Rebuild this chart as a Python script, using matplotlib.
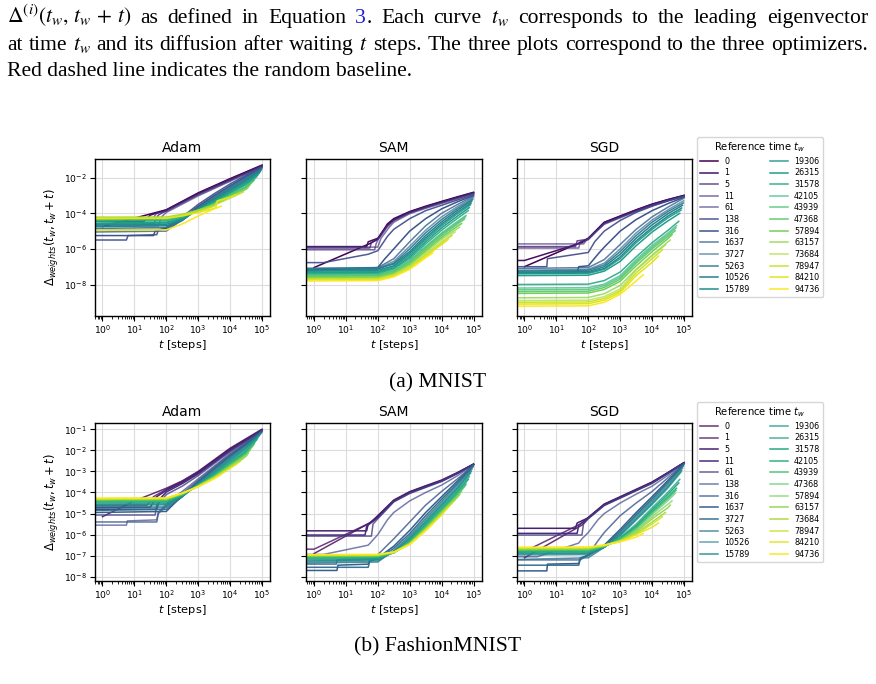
import numpy as np
import matplotlib
matplotlib.use("Agg")
import matplotlib.pyplot as plt
from matplotlib.ticker import NullLocator, LogLocator

# ---------------- data ----------------
ref_times = [0, 1, 5, 11, 61, 138, 316, 1637, 3727, 5263, 10526, 15789,
             19306, 26315, 31578, 42105, 43939, 47368, 57894, 63157,
             73684, 78947, 84210, 94736]
optimizers = ["Adam", "SAM", "SGD"]
captions = ["(a) MNIST", "(b) FashionMNIST"]

mnist_alpha = [1.0, 1.0, 0.8, 0.7, 0.7, 0.9, 1.0, 0.8, 0.7, 0.9, 1.0, 1.0,
               0.9, 1.0, 0.9, 0.7, 0.8, 0.9, 1.0, 0.8, 0.7, 0.9, 1.0, 1.0]
fashion_alpha = [0.8, 0.8, 1.0, 1.0, 0.8, 0.7, 0.8, 1.0, 0.95, 0.8, 0.7, 0.9,
                 0.8, 0.8, 1.0, 1.0, 0.9, 0.7, 0.7, 0.9, 0.95, 0.8, 0.9, 1.0]

# each curve: (log10 t, log10 Delta) knots
mnist_adam = [
    [(0, -4.75), (2, -3.8), (3, -2.85), (4, -2.05), (5, -1.29)],
    [(-0.25, -4.45), (1.3, -4.45), (1.5, -4.1), (2, -3.82), (3, -2.88), (4, -2.08), (5, -1.31)],
    [(-0.25, -4.6), (1.6, -4.6), (1.75, -4.1), (2, -3.85), (3, -2.92), (4, -2.12), (5, -1.33)],
    [(-0.25, -4.35), (1.55, -4.35), (1.7, -4.0), (2, -3.88), (3, -2.96), (4, -2.16), (5, -1.35)],
    [(-0.25, -4.7), (1.75, -4.7), (1.85, -4.2), (2, -3.95), (3, -3.02), (4, -2.2), (5, -1.37)],
    [(-0.25, -5.5), (0.75, -5.5), (0.8, -5.25), (1.7, -5.2), (1.75, -4.95), (2, -4.8), (2.5, -4.2), (3, -3.5), (3.5, -2.9), (4, -2.35), (4.5, -1.85), (5, -1.4)],
    [(-0.25, -5.25), (1.6, -5.25), (1.65, -5.0), (2, -4.85), (2.5, -4.3), (3, -3.6), (3.5, -3.0), (4, -2.45), (4.5, -1.92), (5, -1.43)],
    [(-0.25, -5.05), (2, -5.0), (2.5, -4.35), (3, -3.65), (3.5, -3.05), (4, -2.5), (4.5, -1.98), (4.993, -1.47)],
    [(-0.25, -4.95), (2, -4.9), (2.5, -4.4), (3, -3.7), (3.5, -3.1), (4, -2.55), (4.5, -2.02), (4.984, -1.52)],
    [(-0.25, -4.85), (2, -4.8), (2.5, -4.4), (3, -3.72), (3.5, -3.15), (4, -2.6), (4.5, -2.07), (4.977, -1.56)],
    [(-0.25, -4.75), (2, -4.7), (2.5, -4.38), (3, -3.75), (3.5, -3.2), (4, -2.66), (4.5, -2.14), (4.952, -1.63)],
    [(-0.25, -4.65), (2, -4.62), (2.5, -4.35), (3, -3.78), (3.5, -3.25), (4, -2.72), (4.5, -2.2), (4.925, -1.7)],
    [(-0.25, -4.6), (2, -4.55), (2.5, -4.3), (3, -3.8), (3.5, -3.3), (4, -2.77), (4.5, -2.26), (4.907, -1.76)],
    [(-0.25, -4.55), (2, -4.5), (2.5, -4.28), (3, -3.82), (3.5, -3.35), (4, -2.83), (4.5, -2.33), (4.867, -1.85)],
    [(-0.25, -4.45), (2, -4.42), (2.5, -4.22), (3, -3.82), (3.5, -3.38), (4, -2.88), (4.5, -2.4), (4.835, -1.95)],
    [(-0.25, -4.4), (2, -4.37), (2.5, -4.2), (3, -3.84), (3.5, -3.42), (4, -2.95), (4.5, -2.5), (4.763, -2.1)],
    [(-0.25, -4.35), (2, -4.33), (2.5, -4.17), (3, -3.85), (3.5, -3.45), (4, -2.98), (4.5, -2.52), (4.749, -2.13)],
    [(-0.25, -4.3), (2, -4.28), (2.5, -4.12), (3, -3.85), (3.5, -3.48), (4, -3.02), (4.5, -2.57), (4.721, -2.2)],
    [(-0.25, -4.25), (2, -4.24), (2.5, -4.08), (3, -3.83), (3.5, -3.5), (4, -3.08), (4.5, -2.63), (4.624, -2.4)],
    [(-0.25, -4.3), (2, -4.28), (2.5, -4.1), (3, -3.85), (3.5, -3.55), (3.6, -3.3), (4, -3.05), (4.5, -2.65), (4.566, -2.55)],
    [(-0.25, -4.2), (2, -4.2), (2.5, -4.05), (3, -3.82), (3.5, -3.55), (4, -3.15), (4.42, -2.8)],
    [(-0.25, -4.25), (2, -4.25), (2.5, -4.1), (3, -3.9), (3.5, -3.6), (3.6, -3.35), (4, -3.1), (4.323, -2.85)],
    [(-0.25, -4.3), (2, -4.28), (2.5, -4.15), (3, -3.95), (3.55, -3.7), (3.6, -3.3), (4, -3.1), (4.198, -2.95)],
    [(-0.25, -4.95), (2, -4.93), (2.5, -4.6), (3, -4.15), (3.5, -3.75), (3.721, -3.6)],
]

mnist_sam = [
    [(0, -7.05), (1.75, -5.7), (2, -5.45), (2.3, -4.6), (2.5, -4.3), (3, -3.9), (3.5, -3.6), (4, -3.33), (4.5, -3.07), (5, -2.82)],
    [(-0.25, -5.87), (1.65, -5.87), (1.7, -5.6), (2, -5.4), (2.3, -4.65), (2.5, -4.35), (3, -3.93), (3.5, -3.63), (4, -3.36), (4.5, -3.1), (5, -2.84)],
    [(-0.25, -5.95), (1.75, -5.95), (1.8, -5.65), (2, -5.45), (2.3, -4.7), (2.5, -4.38), (3, -3.95), (3.5, -3.65), (4, -3.38), (4.5, -3.12), (5, -2.86)],
    [(-0.25, -6.05), (1.9, -6.05), (1.95, -5.7), (2, -5.5), (2.3, -4.75), (2.5, -4.42), (3, -3.98), (3.5, -3.68), (4, -3.4), (4.5, -3.14), (5, -2.88)],
    [(-0.25, -5.9), (2.0, -5.9), (2.1, -5.4), (2.35, -4.8), (2.5, -4.5), (3, -4.02), (3.5, -3.72), (4, -3.45), (4.5, -3.18), (5, -2.9)],
    [(-0.25, -6.77), (0.3, -6.77), (1.7, -6.3), (2, -6.1), (2.3, -5.3), (2.5, -4.9), (3, -4.3), (3.5, -3.85), (4, -3.55), (4.5, -3.25), (5, -2.95)],
    [(-0.25, -7.2), (2, -7.05), (2.2, -6.6), (2.5, -6.0), (3, -5.0), (3.5, -4.3), (4, -3.75), (4.5, -3.35), (5, -3.0)],
    [(-0.25, -7.1), (2, -7.05), (2.5, -6.55), (3, -5.6), (3.5, -4.7), (4, -4.0), (4.5, -3.5), (4.993, -3.05)],
    [(-0.25, -7.15), (2, -7.1), (2.5, -6.7), (3, -5.85), (3.5, -4.95), (4, -4.2), (4.5, -3.62), (4.984, -3.12)],
    [(-0.25, -7.2), (2, -7.15), (2.5, -6.8), (3, -6.0), (3.5, -5.1), (4, -4.35), (4.5, -3.72), (4.977, -3.2)],
    [(-0.25, -7.1), (2, -7.08), (2.5, -6.85), (3, -6.15), (3.5, -5.25), (4, -4.48), (4.5, -3.82), (4.952, -3.3)],
    [(-0.25, -7.25), (2, -7.2), (2.5, -6.95), (3, -6.25), (3.5, -5.38), (4, -4.6), (4.5, -3.93), (4.925, -3.42)],
    [(-0.25, -7.3), (2, -7.28), (2.5, -7.0), (3, -6.35), (3.5, -5.48), (4, -4.7), (4.5, -4.02), (4.907, -3.52)],
    [(-0.25, -7.35), (2, -7.32), (2.5, -7.08), (3, -6.45), (3.5, -5.6), (4, -4.82), (4.5, -4.15), (4.867, -3.68)],
    [(-0.25, -7.4), (2, -7.38), (2.5, -7.12), (3, -6.55), (3.5, -5.72), (4, -4.95), (4.5, -4.28), (4.835, -3.85)],
    [(-0.25, -7.45), (2, -7.43), (2.5, -7.2), (3, -6.65), (3.5, -5.85), (4, -5.1), (4.5, -4.45), (4.763, -4.12)],
    [(-0.25, -7.5), (2, -7.48), (2.5, -7.25), (3, -6.7), (3.5, -5.92), (4, -5.17), (4.5, -4.52), (4.749, -4.2)],
    [(-0.25, -7.55), (2, -7.52), (2.5, -7.3), (3, -6.78), (3.5, -6.0), (4, -5.25), (4.5, -4.6), (4.721, -4.32)],
    [(-0.25, -7.6), (2, -7.58), (2.5, -7.35), (3, -6.85), (3.5, -6.1), (4, -5.35), (4.5, -4.72), (4.624, -4.58)],
    [(-0.25, -7.63), (2, -7.6), (2.5, -7.4), (3, -6.92), (3.5, -6.18), (4, -5.45), (4.5, -4.85), (4.566, -4.78)],
    [(-0.25, -7.68), (2, -7.66), (2.5, -7.45), (3, -7.0), (3.5, -6.28), (4, -5.58), (4.42, -5.05)],
    [(-0.25, -7.72), (2, -7.7), (2.5, -7.5), (3, -7.05), (3.5, -6.35), (4, -5.67), (4.323, -5.25)],
    [(-0.25, -7.75), (2, -7.73), (2.5, -7.52), (3, -7.1), (3.5, -6.42), (4, -5.75), (4.198, -5.48)],
    [(-0.25, -7.8), (2, -7.78), (2.5, -7.57), (3, -7.15), (3.5, -6.5), (3.721, -6.22)],
]

mnist_sgd = [
    [(0, -7.0), (1.8, -5.6), (2, -5.4), (2.5, -4.5), (3, -4.15), (3.5, -3.8), (4, -3.48), (4.5, -3.22), (5, -2.99)],
    [(-0.25, -6.65), (0, -6.65), (1.8, -5.65), (2, -5.42), (2.5, -4.52), (3, -4.17), (3.5, -3.82), (4, -3.5), (4.5, -3.24), (5, -3.0)],
    [(-0.25, -5.87), (1.6, -5.87), (1.65, -5.55), (2, -5.45), (2.5, -4.55), (3, -4.2), (3.5, -3.85), (4, -3.52), (4.5, -3.26), (5, -3.02)],
    [(-0.25, -5.95), (1.7, -5.95), (1.75, -5.6), (2, -5.48), (2.5, -4.58), (3, -4.22), (3.5, -3.87), (4, -3.55), (4.5, -3.28), (5, -3.03)],
    [(-0.25, -5.72), (1.85, -5.72), (2, -5.4), (2.5, -4.62), (3, -4.25), (3.5, -3.9), (4, -3.58), (4.5, -3.3), (5, -3.05)],
    [(-0.25, -7.0), (0.7, -7.0), (0.72, -6.55), (2, -6.2), (2.2, -5.6), (2.5, -5.0), (3, -4.4), (3.5, -3.95), (4, -3.6), (4.5, -3.3), (5, -3.05)],
    [(-0.25, -7.35), (1.65, -7.35), (1.7, -7.0), (2, -6.95), (2.3, -6.3), (2.5, -5.9), (3, -5.0), (3.5, -4.35), (4, -3.85), (4.5, -3.45), (5, -3.1)],
    [(-0.25, -7.1), (2, -7.05), (2.5, -6.6), (3, -5.75), (3.5, -4.9), (4, -4.2), (4.5, -3.65), (4.993, -3.15)],
    [(-0.25, -7.2), (2, -7.15), (2.5, -6.8), (3, -6.0), (3.5, -5.1), (4, -4.38), (4.5, -3.8), (4.984, -3.3)],
    [(-0.25, -7.25), (2, -7.2), (2.5, -6.9), (3, -6.15), (3.5, -5.25), (4, -4.5), (4.5, -3.9), (4.977, -3.42)],
    [(-0.25, -7.3), (2, -7.28), (2.5, -7.0), (3, -6.3), (3.5, -5.4), (4, -4.65), (4.5, -4.02), (4.952, -3.55)],
    [(-0.25, -7.35), (2, -7.33), (2.5, -7.1), (3, -6.45), (3.5, -5.55), (4, -4.8), (4.5, -4.15), (4.925, -3.7)],
    [(-0.25, -7.4), (2, -7.38), (2.5, -7.15), (3, -6.55), (3.5, -5.65), (4, -4.9), (4.5, -4.25), (4.907, -3.82)],
    [(-0.25, -7.5), (2, -7.48), (2.5, -7.25), (3, -6.7), (3.5, -5.82), (4, -5.05), (4.5, -4.42), (4.867, -4.0)],
    [(-0.25, -8.0), (2, -7.98), (2.5, -7.78), (3, -7.3), (3.5, -6.45), (4, -5.65), (4.5, -4.95), (4.835, -4.45)],
    [(-0.25, -8.2), (2, -8.18), (2.5, -7.98), (3, -7.5), (3.5, -6.6), (4, -5.8), (4.5, -5.1), (4.763, -4.7)],
    [(-0.25, -8.3), (2, -8.28), (2.5, -8.07), (3, -7.6), (3.5, -6.7), (4, -5.9), (4.5, -5.2), (4.749, -4.82)],
    [(-0.25, -8.4), (2, -8.38), (2.5, -8.17), (3, -7.7), (3.5, -6.8), (4, -6.0), (4.5, -5.3), (4.721, -4.98)],
    [(-0.25, -8.5), (2, -8.48), (2.5, -8.28), (3, -7.82), (3.5, -6.95), (4, -6.15), (4.5, -5.42), (4.624, -5.2)],
    [(-0.25, -8.75), (2, -8.73), (2.5, -8.52), (3, -8.05), (3.5, -7.15), (4, -6.35), (4.5, -5.6), (4.566, -5.5)],
    [(-0.25, -8.9), (2, -8.88), (2.5, -8.68), (3, -8.25), (3.5, -7.2), (4, -6.4), (4.42, -5.78)],
    [(-0.25, -9.0), (2, -8.98), (2.5, -8.78), (3, -8.35), (3.5, -7.35), (4, -6.55), (4.323, -6.05)],
    [(-0.25, -9.1), (2, -9.08), (2.5, -8.88), (3, -8.45), (3.5, -7.5), (4, -6.75), (4.198, -6.4)],
    [(-0.25, -9.22), (2, -9.2), (2.5, -9.0), (3, -8.55), (3.5, -7.8), (3.721, -7.46)],
]

fashion_adam = [
    [(0, -5.15), (1, -4.4), (2, -3.8), (2.5, -3.45), (3, -3.0), (3.5, -2.45), (4, -1.9), (4.5, -1.45), (5, -1.0)],
    [(-0.25, -4.6), (1.4, -4.6), (1.6, -4.2), (2, -3.85), (2.5, -3.48), (3, -3.03), (3.5, -2.48), (4, -1.93), (4.5, -1.47), (5, -1.02)],
    [(-0.25, -4.7), (1.5, -4.7), (1.7, -4.2), (2, -3.9), (2.5, -3.52), (3, -3.07), (3.5, -2.52), (4, -1.97), (4.5, -1.5), (5, -1.03)],
    [(-0.25, -4.8), (1.7, -4.8), (1.8, -4.3), (2, -3.98), (2.5, -3.58), (3, -3.12), (3.5, -2.57), (4, -2.02), (4.5, -1.54), (5, -1.05)],
    [(-0.25, -5.07), (1.65, -5.07), (1.7, -4.6), (2, -4.1), (2.5, -3.7), (3, -3.2), (3.5, -2.63), (4, -2.07), (4.5, -1.58), (5, -1.06)],
    [(-0.25, -5.55), (0.75, -5.55), (0.78, -5.35), (1.7, -5.3), (1.75, -4.95), (2, -4.55), (2.5, -3.95), (3, -3.35), (3.5, -2.75), (4, -2.15), (4.5, -1.63), (5, -1.08)],
    [(-0.25, -5.4), (1.7, -5.4), (1.75, -5.0), (2, -4.65), (2.5, -4.05), (3, -3.42), (3.5, -2.8), (4, -2.2), (4.5, -1.67), (5, -1.1)],
    [(-0.25, -4.95), (2, -4.9), (2.5, -4.15), (3, -3.48), (3.5, -2.86), (4, -2.25), (4.5, -1.7), (4.993, -1.12)],
    [(-0.25, -4.85), (2, -4.8), (2.5, -4.2), (3, -3.52), (3.5, -2.9), (4, -2.3), (4.5, -1.74), (4.984, -1.15)],
    [(-0.25, -4.75), (2, -4.72), (2.5, -4.2), (3, -3.55), (3.5, -2.95), (4, -2.35), (4.5, -1.78), (4.977, -1.18)],
    [(-0.25, -4.68), (2, -4.65), (2.5, -4.2), (3, -3.58), (3.5, -3.0), (4, -2.4), (4.5, -1.83), (4.952, -1.22)],
    [(-0.25, -4.6), (2, -4.57), (2.5, -4.18), (3, -3.6), (3.5, -3.04), (4, -2.45), (4.5, -1.88), (4.925, -1.27)],
    [(-0.25, -4.55), (2, -4.52), (2.5, -4.17), (3, -3.62), (3.5, -3.08), (4, -2.5), (4.5, -1.93), (4.907, -1.32)],
    [(-0.25, -4.5), (2, -4.48), (2.5, -4.15), (3, -3.64), (3.5, -3.12), (4, -2.55), (4.5, -2.0), (4.867, -1.42)],
    [(-0.25, -4.45), (2, -4.43), (2.5, -4.12), (3, -3.65), (3.5, -3.15), (4, -2.6), (4.5, -2.06), (4.835, -1.5)],
    [(-0.25, -4.42), (2, -4.4), (2.5, -4.1), (3, -3.66), (3.5, -3.2), (4, -2.65), (4.5, -2.12), (4.763, -1.65)],
    [(-0.25, -4.4), (2, -4.38), (2.5, -4.1), (3, -3.67), (3.5, -3.22), (4, -2.67), (4.5, -2.15), (4.749, -1.7)],
    [(-0.25, -4.37), (2, -4.35), (2.5, -4.08), (3, -3.68), (3.5, -3.24), (4, -2.7), (4.5, -2.18), (4.721, -1.78)],
    [(-0.25, -4.35), (2, -4.33), (2.5, -4.07), (3, -3.69), (3.5, -3.26), (4, -2.74), (4.5, -2.24), (4.624, -2.0)],
    [(-0.25, -4.33), (2, -4.31), (2.5, -4.06), (3, -3.7), (3.5, -3.28), (4, -2.77), (4.5, -2.28), (4.566, -2.15)],
    [(-0.25, -4.32), (2, -4.3), (2.5, -4.05), (3, -3.71), (3.5, -3.3), (4, -2.8), (4.42, -2.38)],
    [(-0.25, -4.3), (2, -4.29), (2.5, -4.05), (3, -3.72), (3.5, -3.32), (4, -2.83), (4.323, -2.52)],
    [(-0.25, -4.29), (2, -4.28), (2.5, -4.04), (3, -3.72), (3.5, -3.33), (4, -2.85), (4.198, -2.66)],
    [(-0.25, -4.27), (2, -4.26), (2.5, -4.03), (3, -3.73), (3.5, -3.35), (3.721, -3.15)],
]

fashion_sam = [
    [(0, -6.9), (1.8, -5.4), (2, -5.1), (2.5, -4.36), (3, -3.96), (3.5, -3.68), (4, -3.41), (4.5, -3.05), (5, -2.65)],
    [(-0.25, -6.69), (0, -6.69), (1.75, -5.45), (2, -5.12), (2.5, -4.38), (3, -3.98), (3.5, -3.7), (4, -3.43), (4.5, -3.07), (5, -2.66)],
    [(-0.25, -5.82), (1.65, -5.82), (1.7, -5.5), (2, -5.15), (2.5, -4.4), (3, -4.0), (3.5, -3.72), (4, -3.45), (4.5, -3.08), (5, -2.66)],
    [(-0.25, -6.02), (1.6, -6.02), (1.65, -5.6), (2, -5.2), (2.5, -4.42), (3, -4.02), (3.5, -3.74), (4, -3.46), (4.5, -3.09), (5, -2.67)],
    [(-0.25, -6.07), (1.8, -6.07), (1.85, -5.5), (2, -5.25), (2.5, -4.45), (3, -4.05), (3.5, -3.76), (4, -3.48), (4.5, -3.1), (5, -2.67)],
    [(-0.25, -6.94), (0.3, -6.94), (1.7, -6.5), (2, -6.0), (2.3, -5.3), (2.5, -4.95), (3, -4.4), (3.5, -4.0), (4, -3.65), (4.5, -3.2), (5, -2.68)],
    [(-0.25, -7.4), (0.7, -7.4), (0.72, -7.2), (1.7, -7.15), (2, -6.95), (2.5, -6.2), (3, -5.4), (3.5, -4.6), (4, -3.95), (4.5, -3.35), (5, -2.7)],
    [(-0.25, -7.7), (0.72, -7.7), (0.75, -7.45), (1.7, -7.4), (1.75, -7.2), (2, -7.1), (2.5, -6.55), (3, -5.8), (3.5, -4.95), (4, -4.2), (4.5, -3.45), (4.993, -2.72)],
    [(-0.25, -7.55), (1.7, -7.55), (1.75, -7.25), (2, -7.15), (2.5, -6.65), (3, -5.95), (3.5, -5.1), (4, -4.32), (4.5, -3.55), (4.984, -2.76)],
    [(-0.25, -7.35), (2, -7.3), (2.5, -6.75), (3, -6.05), (3.5, -5.22), (4, -4.42), (4.5, -3.62), (4.977, -2.8)],
    [(-0.25, -7.3), (2, -7.25), (2.5, -6.8), (3, -6.12), (3.5, -5.3), (4, -4.5), (4.5, -3.7), (4.952, -2.9)],
    [(-0.25, -7.25), (2, -7.2), (2.5, -6.82), (3, -6.18), (3.5, -5.38), (4, -4.58), (4.5, -3.78), (4.925, -3.0)],
    [(-0.25, -7.2), (2, -7.17), (2.5, -6.84), (3, -6.22), (3.5, -5.44), (4, -4.63), (4.5, -3.83), (4.907, -3.08)],
    [(-0.25, -7.15), (2, -7.13), (2.5, -6.85), (3, -6.27), (3.5, -5.5), (4, -4.7), (4.5, -3.9), (4.867, -3.25)],
    [(-0.25, -7.1), (2, -7.08), (2.5, -6.85), (3, -6.3), (3.5, -5.55), (4, -4.76), (4.5, -3.97), (4.835, -3.38)],
    [(-0.25, -7.08), (2, -7.06), (2.5, -6.86), (3, -6.34), (3.5, -5.6), (4, -4.82), (4.5, -4.05), (4.763, -3.6)],
    [(-0.25, -7.06), (2, -7.04), (2.5, -6.86), (3, -6.36), (3.5, -5.63), (4, -4.85), (4.5, -4.08), (4.749, -3.65)],
    [(-0.25, -7.04), (2, -7.02), (2.5, -6.86), (3, -6.38), (3.5, -5.66), (4, -4.88), (4.5, -4.12), (4.721, -3.72)],
    [(-0.25, -7.02), (2, -7.0), (2.5, -6.85), (3, -6.4), (3.5, -5.7), (4, -4.93), (4.5, -4.18), (4.624, -3.95)],
    [(-0.25, -7.0), (2, -6.99), (2.5, -6.85), (3, -6.42), (3.5, -5.73), (4, -4.97), (4.5, -4.22), (4.566, -4.1)],
    [(-0.25, -6.98), (2, -6.97), (2.5, -6.84), (3, -6.44), (3.5, -5.76), (4, -5.0), (4.42, -4.35)],
    [(-0.25, -6.97), (2, -6.96), (2.5, -6.84), (3, -6.45), (3.5, -5.78), (4, -5.03), (4.323, -4.5)],
    [(-0.25, -6.96), (2, -6.95), (2.5, -6.83), (3, -6.46), (3.5, -5.8), (4, -5.06), (4.198, -4.72)],
    [(-0.25, -6.95), (2, -6.94), (2.5, -6.83), (3, -6.47), (3.5, -5.82), (3.721, -5.5)],
]

fashion_sgd = [
    [(0, -7.1), (1.8, -5.55), (2, -5.2), (2.5, -4.55), (3, -4.2), (3.5, -3.85), (4, -3.5), (4.5, -3.05), (5, -2.58)],
    [(-0.25, -6.8), (0, -6.8), (1.75, -5.5), (2, -5.18), (2.5, -4.56), (3, -4.22), (3.5, -3.87), (4, -3.52), (4.5, -3.06), (5, -2.59)],
    [(-0.25, -5.7), (1.6, -5.7), (1.65, -5.45), (2, -5.2), (2.5, -4.58), (3, -4.23), (3.5, -3.88), (4, -3.53), (4.5, -3.07), (5, -2.59)],
    [(-0.25, -5.94), (1.65, -5.94), (1.7, -5.55), (2, -5.22), (2.5, -4.6), (3, -4.25), (3.5, -3.9), (4, -3.55), (4.5, -3.08), (5, -2.6)],
    [(-0.25, -6.02), (1.8, -6.02), (1.85, -5.5), (2, -5.25), (2.5, -4.62), (3, -4.27), (3.5, -3.92), (4, -3.57), (4.5, -3.09), (5, -2.6)],
    [(-0.25, -7.05), (0.4, -7.05), (1.7, -6.4), (1.8, -6.2), (2, -5.9), (2.3, -5.3), (2.5, -5.0), (3, -4.5), (3.5, -4.08), (4, -3.7), (4.5, -3.18), (5, -2.62)],
    [(-0.25, -7.2), (1.75, -7.2), (2, -6.95), (2.3, -6.3), (2.5, -5.9), (3, -5.1), (3.5, -4.5), (4, -3.95), (4.5, -3.3), (5, -2.64)],
    [(-0.25, -7.72), (0.7, -7.72), (0.72, -7.4), (1.7, -7.37), (1.75, -7.1), (2, -6.98), (2.5, -6.5), (3, -5.75), (3.5, -4.95), (4, -4.2), (4.5, -3.42), (4.993, -2.66)],
    [(-0.25, -7.45), (1.7, -7.45), (1.75, -7.15), (2, -7.0), (2.5, -6.55), (3, -5.85), (3.5, -5.05), (4, -4.3), (4.5, -3.5), (4.984, -2.7)],
    [(-0.25, -7.18), (2, -7.1), (2.5, -6.6), (3, -5.92), (3.5, -5.12), (4, -4.38), (4.5, -3.58), (4.977, -2.75)],
    [(-0.25, -6.97), (2, -6.95), (2.5, -6.6), (3, -5.98), (3.5, -5.2), (4, -4.45), (4.5, -3.66), (4.952, -2.85)],
    [(-0.25, -6.92), (2, -6.9), (2.5, -6.6), (3, -6.02), (3.5, -5.26), (4, -4.52), (4.5, -3.73), (4.925, -2.95)],
    [(-0.25, -6.88), (2, -6.86), (2.5, -6.6), (3, -6.06), (3.5, -5.31), (4, -4.57), (4.5, -3.78), (4.907, -3.03)],
    [(-0.25, -6.84), (2, -6.82), (2.5, -6.58), (3, -6.14), (3.5, -5.5), (4, -4.73), (4.5, -3.98), (4.867, -3.38)],
    [(-0.25, -6.8), (2, -6.78), (2.5, -6.57), (3, -6.17), (3.5, -5.58), (4, -4.82), (4.5, -4.08), (4.835, -3.55)],
    [(-0.25, -6.77), (2, -6.75), (2.5, -6.56), (3, -6.2), (3.5, -5.65), (4, -4.9), (4.5, -4.2), (4.763, -3.8)],
    [(-0.25, -6.75), (2, -6.74), (2.5, -6.56), (3, -6.22), (3.5, -5.7), (4, -4.97), (4.5, -4.28), (4.749, -3.9)],
    [(-0.25, -6.73), (2, -6.72), (2.5, -6.55), (3, -6.24), (3.5, -5.76), (4, -5.05), (4.5, -4.38), (4.721, -4.05)],
    [(-0.25, -6.7), (2, -6.69), (2.5, -6.54), (3, -6.26), (3.5, -5.82), (4, -5.15), (4.5, -4.55), (4.624, -4.4)],
    [(-0.25, -6.68), (2, -6.67), (2.5, -6.53), (3, -6.28), (3.5, -5.88), (4, -5.25), (4.5, -4.72), (4.566, -4.6)],
    [(-0.25, -6.66), (2, -6.65), (2.5, -6.52), (3, -6.3), (3.5, -5.95), (4, -5.4), (4.42, -4.95)],
    [(-0.25, -6.64), (2, -6.63), (2.5, -6.51), (3, -6.31), (3.5, -5.98), (4, -5.5), (4.323, -5.15)],
    [(-0.25, -6.62), (2, -6.61), (2.5, -6.5), (3, -6.32), (3.5, -6.0), (4, -5.65), (4.198, -5.45)],
    [(-0.25, -6.6), (2, -6.59), (2.5, -6.49), (3, -6.34), (3.5, -6.12), (3.721, -5.95)],
]

mnist_panels = [mnist_adam, mnist_sam, mnist_sgd]
fashion_panels = [fashion_adam, fashion_sam, fashion_sgd]

# ---------------- figure ----------------
W, H = 876, 684
fig = plt.figure(figsize=(W / 100, H / 100), dpi=100)
fig.patch.set_facecolor("white")

colors = plt.cm.viridis(np.linspace(0, 1, len(ref_times)))
panel_left = [94.5, 306.0, 516.5]
panel_w = 175.5
rows = [
    dict(panels=mnist_panels, alpha=mnist_alpha, top=158.5, bottom=316.0,
         ylim=(10 ** -9.77, 10 ** -0.92), yticks=[1e-8, 1e-6, 1e-4, 1e-2],
         legend_top=137, caption_y=387),
    dict(panels=fashion_panels, alpha=fashion_alpha, top=422.7, bottom=581.0,
         ylim=(10 ** -8.2, 10 ** -0.69), yticks=[10.0 ** k for k in range(-8, 0)],
         legend_top=402, caption_y=651),
]

serif = "Liberation Serif"

for r, row in enumerate(rows):
    handles = []
    for j, (name, curves) in enumerate(zip(optimizers, row["panels"])):
        ax = fig.add_axes([panel_left[j] / W, 1 - row["bottom"] / H, panel_w / W,
                           (row["bottom"] - row["top"]) / H])
        hs = []
        for i, knots in enumerate(curves):
            k = np.array(knots, dtype=float)
            ln, = ax.plot(10 ** k[:, 0], 10 ** k[:, 1], color=colors[i],
                          alpha=row["alpha"][i], lw=1.1, label=str(ref_times[i]))
            hs.append(ln)
        handles = hs
        ax.set_xscale("log")
        ax.set_yscale("log")
        ax.set_xlim(10 ** -0.25, 10 ** 5.25)
        ax.set_ylim(*row["ylim"])
        ax.set_xticks([10.0 ** k for k in range(0, 6)])
        ax.xaxis.set_minor_locator(LogLocator(base=10, subs=np.arange(2, 10), numticks=20))
        ax.set_yticks(row["yticks"])
        ax.yaxis.set_minor_locator(NullLocator())
        ax.tick_params(axis="both", which="major", labelsize=6.7, length=3.5, width=0.8, pad=2)
        ax.tick_params(axis="x", which="minor", length=2, width=0.6)
        ax.grid(True, which="major", color="#dcdcdc", lw=0.8)
        ax.set_axisbelow(True)
        for sp in ax.spines.values():
            sp.set_linewidth(1.0)
        ax.set_title(name, fontsize=10, pad=5)
        ax.set_xlabel(r"$t$ [steps]", fontsize=8.2, labelpad=1)
        if j == 0:
            ax.set_ylabel(r"$\Delta_{weights}(t_w, t_w + t)$", fontsize=8.4, labelpad=2)
        else:
            ax.tick_params(axis="y", labelleft=False)
    fig.legend(handles, [str(t) for t in ref_times], loc="upper left",
               bbox_to_anchor=(697 / W, 1 - row["legend_top"] / H), ncol=2,
               fontsize=5.8, title=r"Reference time $t_w$", title_fontsize=7.2,
               frameon=True, borderpad=0.4, columnspacing=2.5, handlelength=2.2,
               handletextpad=0.8, labelspacing=0.33, borderaxespad=0.0,
               fancybox=True, edgecolor="#cccccc")
    fig.text(438 / W, 1 - row["caption_y"] / H, captions[r], ha="center",
             va="baseline", family=serif, fontsize=15.6)

# ---------------- caption text above figure ----------------
renderer = fig.canvas.get_renderer()
link_blue = "#2020d8"
fs = 15.6


def make_text(s, color, y):
    return fig.text(0, 1 - y / H, s, family=serif, math_fontfamily="stix",
                    fontsize=fs, color=color, ha="left", va="baseline")


def justified(tokens, x0, x1, y):
    groups = []
    total = 0.0
    for tok in tokens:
        parts = []
        for s, c in tok:
            t = make_text(s, c, y)
            w = t.get_window_extent(renderer).width
            parts.append((t, w))
            total += w
        groups.append(parts)
    gap = (x1 - x0 - total) / (len(groups) - 1)
    x = x0
    for parts in groups:
        for t, w in parts:
            t.set_x(x / W)
            x += w
        x += gap


k = "black"
line1 = [[(r"$\Delta^{(i)}(t_w,\,t_w\,+\,t)$", k)], [("as", k)], [("defined", k)], [("in", k)],
         [("Equation", k)], [("3", link_blue), (".", k)], [("Each", k)], [("curve", k)],
         [(r"$t_w$", k)], [("corresponds", k)], [("to", k)], [("the", k)],
         [("leading", k)], [("eigenvector", k)]]
line2 = [[(w, k)] for w in ["at", "time", r"$t_w$", "and", "its", "diffusion", "after",
                             "waiting", r"$t$", "steps.", "The", "three", "plots",
                             "correspond", "to", "the", "three", "optimizers."]]
justified(line1, 7, 868, 22.7)
justified(line2, 7, 868, 50)
make_text("Red dashed line indicates the random baseline.", k, 76).set_x(7 / W)

fig.savefig("out.png", dpi=100)
